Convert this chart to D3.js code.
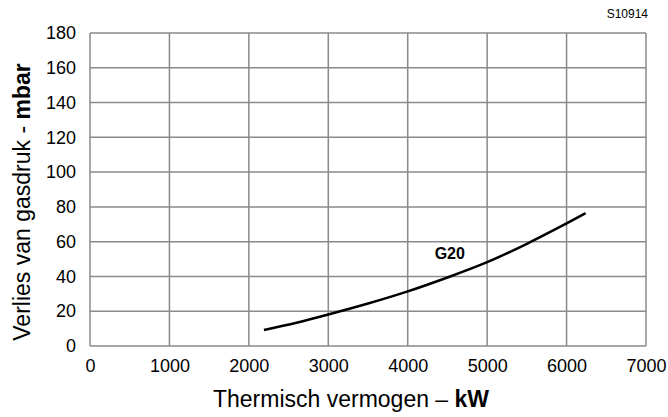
<!DOCTYPE html>
<html lang="nl">
<head>
  <meta charset="UTF-8">
  <title>G20 drukverlies</title>
  <style>
    body { margin: 0; background: #fff; }
    text { font-family: "Liberation Sans", Arial, sans-serif; }
  </style>
</head>
<body>
<script src="https://d3js.org/d3.v7.min.js"></script>
<script>
  // values
  var xTicks = [0, 1000, 2000, 3000, 4000, 5000, 6000, 7000];
  var yTicks = [0, 20, 40, 60, 80, 100, 120, 140, 160, 180];
  var powerKW = [2190, 2600, 3000, 3500, 4000, 4500, 5000, 5500, 6000, 6240];
  var lossMbar = [9.2, 13.4, 18.1, 24.4, 31.4, 39.4, 48.2, 58.8, 70.5, 76.4];
  var seriesName = "G20";

  var w = 668, h = 417;
  var margin = {top: 33, right: 22, bottom: 71, left: 90};

  var svg = d3.select("body").append("svg")
      .attr("width", w)
      .attr("height", h);

  var xScale = d3.scaleLinear()
      .domain([0, 7000])
      .range([margin.left, w - margin.right]);

  var yScale = d3.scaleLinear()
      .domain([0, 180])
      .range([h - margin.bottom, margin.top]);

  // grid
  svg.append("g")
      .selectAll("line")
      .data(xTicks)
      .join("line")
      .attr("x1", d => xScale(d))
      .attr("x2", d => xScale(d))
      .attr("y1", yScale(0))
      .attr("y2", yScale(180))
      .attr("stroke", "#8a8a8a")
      .attr("stroke-width", 1.5);

  svg.append("g")
      .selectAll("line")
      .data(yTicks)
      .join("line")
      .attr("x1", xScale(0))
      .attr("x2", xScale(7000))
      .attr("y1", d => yScale(d))
      .attr("y2", d => yScale(d))
      .attr("stroke", "#8a8a8a")
      .attr("stroke-width", 1.5);

  // axes (labels only, lines come from the grid)
  var xAxis = d3.axisBottom(xScale).tickValues(xTicks).tickFormat(d3.format("d"))
      .tickSize(0).tickPadding(13);
  var yAxis = d3.axisLeft(yScale).tickValues(yTicks).tickFormat(d3.format("d"))
      .tickSize(0).tickPadding(14);

  svg.append("g")
      .attr("transform", "translate(0," + yScale(0) + ")")
      .call(xAxis)
      .call(g => g.select(".domain").remove())
      .selectAll("text")
      .attr("font-size", 18)
      .attr("fill", "#000")
      .style("font-family", "'Liberation Sans', Arial, sans-serif");

  svg.append("g")
      .attr("transform", "translate(" + xScale(0) + ",0)")
      .call(yAxis)
      .call(g => g.select(".domain").remove())
      .selectAll("text")
      .attr("font-size", 18)
      .attr("fill", "#000")
      .style("font-family", "'Liberation Sans', Arial, sans-serif");

  // curve
  var pts = powerKW.map((p, i) => [p, lossMbar[i]]);
  var line = d3.line()
      .x(d => xScale(d[0]))
      .y(d => yScale(d[1]))
      .curve(d3.curveCatmullRom);

  svg.append("path")
      .datum(pts)
      .attr("d", line)
      .attr("fill", "none")
      .attr("stroke", "#000")
      .attr("stroke-width", 2.5);

  svg.append("text")
      .attr("x", xScale(4530))
      .attr("y", yScale(50.3))
      .attr("text-anchor", "middle")
      .attr("font-size", 16)
      .attr("font-weight", "bold")
      .text(seriesName);

  // titles
  var xt = svg.append("text")
      .attr("x", 351)
      .attr("y", 407)
      .attr("text-anchor", "middle")
      .attr("font-size", 23);
  xt.append("tspan").text("Thermisch vermogen – ");
  xt.append("tspan").attr("font-weight", "bold").text("kW");

  var yt = svg.append("text")
      .attr("transform", "translate(29.5,202) rotate(-90)")
      .attr("text-anchor", "middle")
      .attr("font-size", 23);
  yt.append("tspan").text("Verlies van gasdruk - ");
  yt.append("tspan").attr("font-weight", "bold").text("mbar");

  svg.append("text")
      .attr("x", 648)
      .attr("y", 18)
      .attr("text-anchor", "end")
      .attr("font-size", 12)
      .text("S10914");
</script>
</body>
</html>
